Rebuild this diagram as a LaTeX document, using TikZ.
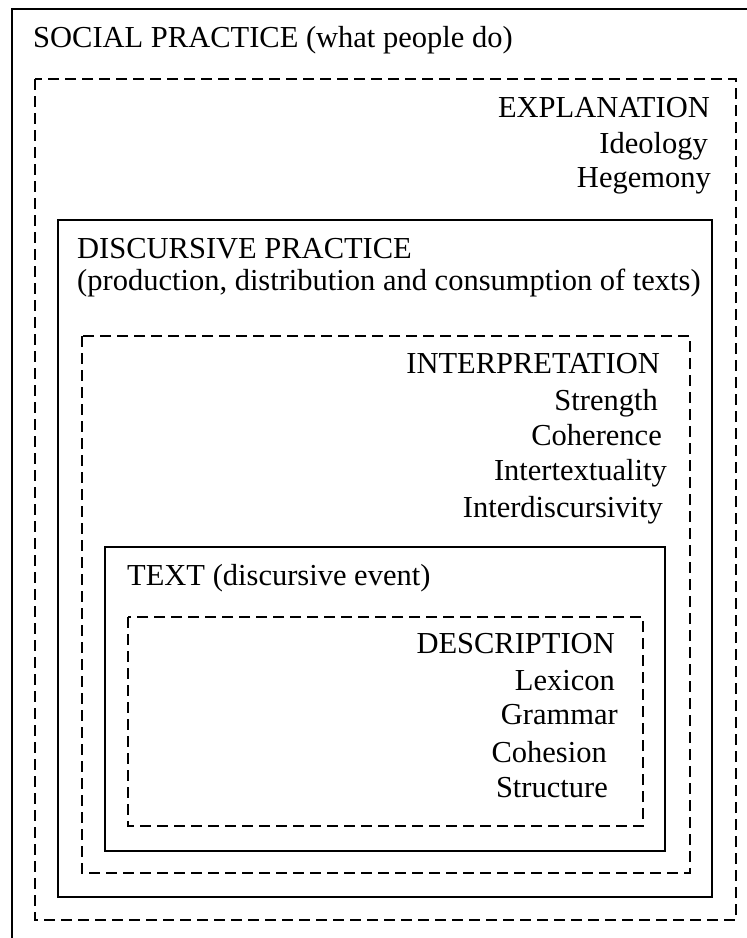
\documentclass[tikz,border=0pt]{standalone}
\usepackage{fontspec}
\setmainfont{Liberation Serif}
\begin{document}
\begin{tikzpicture}[x=1pt, y=-1pt,
    solidbox/.style={draw, line width=2.3pt},
    dashbox/.style={draw, line width=2.3pt, dash pattern=on 11pt off 6pt},
    lbl/.style={inner sep=0pt, font=\fontsize{30.5}{35}\selectfont}]
  \useasboundingbox (0,0) rectangle (747,938);
  % nested frames, outside in
  \draw[solidbox] (12,9)    rectangle (760,950);
  \draw[dashbox]  (35,79)   rectangle (736,920);
  \draw[solidbox] (58,220)  rectangle (712,897);
  \draw[dashbox]  (82,336)  rectangle (690,873);
  \draw[solidbox] (105,547) rectangle (665,851);
  \draw[dashbox]  (128,617) rectangle (643,826);
  % headings, left aligned
  \node[lbl, anchor=base west] (social)     at (33,47)   {SOCIAL PRACTICE (what people do)};
  \node[lbl, anchor=base west] (discursive) at (77,258)  {DISCURSIVE PRACTICE};
  \node[lbl, anchor=base west] (production) at (77,290)  {(production, distribution and consumption of texts)};
  \node[lbl, anchor=base west] (text)       at (127,585) {TEXT (discursive event)};
  % right aligned lists
  \foreach \name/\x/\y/\txt in {explanation/710/117/EXPLANATION, ideology/708/153/Ideology, hegemony/711/187/Hegemony,
      interpretation/660/373/INTERPRETATION, strength/658/410/Strength, coherence/662/445/Coherence,
      intertextuality/667/480/Intertextuality, interdiscursivity/663/517/Interdiscursivity,
      description/615/653/DESCRIPTION, lexicon/615/690/Lexicon, grammar/618/724/Grammar,
      cohesion/607/762/Cohesion, structure/608/797/Structure}
    \node[lbl, anchor=base east] (\name) at (\x,\y) {\txt};
\end{tikzpicture}
\end{document}
